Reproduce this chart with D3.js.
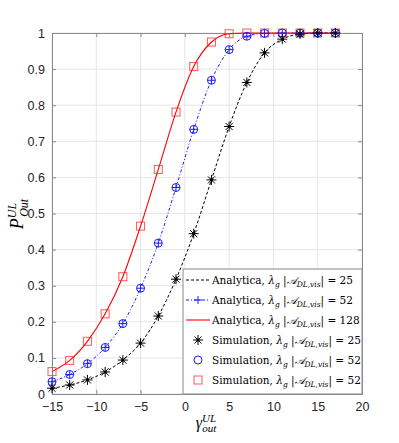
<!DOCTYPE html>
<html>
<head>
<meta charset="utf-8">
<script src="https://cdn.jsdelivr.net/npm/d3@7"></script>
<style>
  body { margin: 0; background: #fff; }
  .tick text { font-family: "Liberation Sans", Arial, sans-serif; font-size: 12.5px; fill: #262626; }
</style>
</head>
<body>
<div id="vis"></div>
<script>
// Data
var gammaDb = [-15, -13, -11, -9, -7, -5, -3, -1, 1, 3, 5, 7, 9, 11, 13, 15, 17];
var pOut25  = [0.016, 0.025, 0.039, 0.061, 0.094, 0.141, 0.216, 0.318, 0.444, 0.593, 0.741, 0.863, 0.945, 0.983, 0.997, 1.0, 1.0];
var pOut52  = [0.034, 0.054, 0.084, 0.129, 0.195, 0.293, 0.418, 0.572, 0.733, 0.869, 0.954, 0.991, 0.999, 1.0, 1.0, 1.0, 1.0];
var pOut128 = [0.062, 0.093, 0.146, 0.222, 0.325, 0.465, 0.622, 0.781, 0.907, 0.975, 0.998, 1.0, 1.0, 1.0, 1.0, 1.0, 1.0];
var xTicks = [-15, -10, -5, 0, 5, 10, 15, 20];
var yTicks = [0, 0.1, 0.2, 0.3, 0.4, 0.5, 0.6, 0.7, 0.8, 0.9, 1];
var legendVals = ["25", "52", "128", "25", "52", "52"];

var width = 399, height = 443,
    margin = { top: 33, right: 37, bottom: 49, left: 52 };
var drawWidth = width - margin.left - margin.right;
var drawHeight = height - margin.top - margin.bottom;

var svg = d3.select("#vis").append("svg")
    .attr("width", width)
    .attr("height", height);

var g = svg.append("g")
    .attr("transform", "translate(" + margin.left + "," + margin.top + ")");

var x = d3.scaleLinear().domain([-15, 20]).range([0, drawWidth]);
var y = d3.scaleLinear().domain([0, 1]).range([drawHeight, 0]);

// grid
g.append("g").selectAll("line").data(xTicks).enter().append("line")
    .attr("x1", function(d) { return x(d); }).attr("x2", function(d) { return x(d); })
    .attr("y1", 0).attr("y2", drawHeight)
    .attr("stroke", "#e6e6e6");
g.append("g").selectAll("line").data(yTicks).enter().append("line")
    .attr("y1", function(d) { return y(d); }).attr("y2", function(d) { return y(d); })
    .attr("x1", 0).attr("x2", drawWidth)
    .attr("stroke", "#e6e6e6");

// axes (MATLAB-like box with inward ticks)
var axColor = "#8a8a8a";
function styleAxis(sel) {
    sel.select(".domain").attr("stroke", axColor);
    sel.selectAll(".tick line").attr("stroke", axColor);
}
g.append("g").attr("transform", "translate(0," + drawHeight + ")")
    .call(d3.axisBottom(x).tickValues(xTicks).tickSize(-4).tickPadding(8).tickSizeOuter(0))
    .call(styleAxis)
    .call(function(s) { s.selectAll("text").attr("dy", "0.71em"); });
g.append("g")
    .call(d3.axisTop(x).tickValues(xTicks).tickSize(-4).tickSizeOuter(0).tickFormat(""))
    .call(styleAxis);
g.append("g")
    .call(d3.axisLeft(y).tickValues(yTicks).tickSize(-4).tickPadding(7).tickSizeOuter(0).tickFormat(d3.format("")))
    .call(styleAxis);
g.append("g").attr("transform", "translate(" + drawWidth + ",0)")
    .call(d3.axisRight(y).tickValues(yTicks).tickSize(-4).tickSizeOuter(0).tickFormat(""))
    .call(styleAxis);

// lines
var series = [
    { vals: pOut25,  color: "#000000", dash: "3,2", width: 1 },
    { vals: pOut52,  color: "#1a1aff", dash: "3,2,1,2", width: 1 },
    { vals: pOut128, color: "#ff0000", dash: null, width: 1.1 }
];
var line = d3.line()
    .x(function(d) { return x(d[0]); })
    .y(function(d) { return y(d[1]); })
    .curve(d3.curveMonotoneX);

series.forEach(function(s) {
    g.append("path")
        .datum(d3.zip(gammaDb, s.vals))
        .attr("fill", "none")
        .attr("stroke", s.color)
        .attr("stroke-width", s.width)
        .attr("stroke-dasharray", s.dash)
        .attr("d", line);
});

// marker helpers
function asterisk(sel, cx, cy, r) {
    var a = sel.append("g").attr("transform", "translate(" + cx + "," + cy + ")");
    [0, 45, 90, 135].forEach(function(ang) {
        var rad = ang * Math.PI / 180;
        a.append("line")
            .attr("x1", -r * Math.cos(rad)).attr("y1", -r * Math.sin(rad))
            .attr("x2", r * Math.cos(rad)).attr("y2", r * Math.sin(rad))
            .attr("stroke", "#000").attr("stroke-width", 1);
    });
    a.append("circle").attr("r", 1.6).attr("fill", "#000");
}
function plus(sel, cx, cy, r, color) {
    sel.append("line").attr("x1", cx - r).attr("x2", cx + r).attr("y1", cy).attr("y2", cy)
        .attr("stroke", color).attr("stroke-width", 1);
    sel.append("line").attr("x1", cx).attr("x2", cx).attr("y1", cy - r).attr("y2", cy + r)
        .attr("stroke", color).attr("stroke-width", 1);
}

var marks = g.append("g");
// red squares (simulation, 128)
gammaDb.forEach(function(d, i) {
    marks.append("rect")
        .attr("x", x(d) - 4).attr("y", y(pOut128[i]) - 4)
        .attr("width", 8).attr("height", 8)
        .attr("fill", "none").attr("stroke", "#ff2020").attr("stroke-opacity", 0.75);
});
// blue circles + plus markers
gammaDb.forEach(function(d, i) {
    marks.append("circle")
        .attr("cx", x(d)).attr("cy", y(pOut52[i])).attr("r", 4)
        .attr("fill", "none").attr("stroke", "#1a1aff");
    plus(marks, x(d), y(pOut52[i]), 4, "#1a1aff");
});
// black asterisks
gammaDb.forEach(function(d, i) {
    asterisk(marks, x(d), y(pOut25[i]), 5);
});

// legend
var lg = svg.append("g").attr("transform", "translate(183,269)");
lg.append("rect")
    .attr("width", 179).attr("height", 125)
    .attr("fill", "#fff").attr("stroke", "#8a8a8a");

var legendNames = ["Analytica, ", "Analytica, ", "Analytica, ", "Simulation, ", "Simulation, ", "Simulation, "];
legendVals.forEach(function(v, i) {
    var row = lg.append("g").attr("transform", "translate(0," + (11 + i * 20) + ")");
    if (i < 3) {
        var s = series[i];
        row.append("line").attr("x1", 3).attr("x2", 27).attr("y1", 0).attr("y2", 0)
            .attr("stroke", s.color).attr("stroke-dasharray", s.dash).attr("stroke-width", s.width);
        if (i === 1) plus(row, 15, 0, 4, "#1a1aff");
    } else if (i === 3) {
        asterisk(row, 15, 0, 5);
    } else if (i === 4) {
        row.append("circle").attr("cx", 15).attr("cy", 0).attr("r", 4)
            .attr("fill", "none").attr("stroke", "#1a1aff");
    } else {
        row.append("rect").attr("x", 11).attr("y", -4).attr("width", 8).attr("height", 8)
            .attr("fill", "none").attr("stroke", "#ff2020").attr("stroke-opacity", 0.75);
    }
    var t = row.append("text")
        .attr("x", 29).attr("y", 4)
        .style("font-family", "'DejaVu Serif', 'Liberation Serif', serif")
        .style("font-size", "10.5px")
        .attr("fill", "#000");
    t.append("tspan").text(legendNames[i]);
    t.append("tspan").style("font-style", "italic").text("λ");
    t.append("tspan").style("font-style", "italic").style("font-size", "7.5px").attr("dy", 2.5).text("g");
    t.append("tspan").attr("dy", -2.5).text(" |");
    t.append("tspan").style("font-style", "italic").text("𝒜");
    t.append("tspan").style("font-style", "italic").style("font-size", "7.5px").attr("dy", 2.5).text("DL,vis");
    t.append("tspan").attr("dy", -2.5).text("| = " + v);
});

// axis labels
var serif = "'Liberation Serif', 'DejaVu Serif', serif";
var yl = svg.append("text")
    .attr("transform", "translate(23,214) rotate(-90)")
    .attr("text-anchor", "middle")
    .style("font-family", serif).style("font-style", "italic")
    .attr("fill", "#000");
yl.append("tspan").style("font-size", "18px").text("P");
yl.append("tspan").style("font-size", "12px").attr("dy", -7).text("UL");
yl.append("tspan").style("font-size", "12px").attr("dx", -14).attr("dy", 12).text("Out");

var xl = svg.append("text")
    .attr("x", 206).attr("y", 428)
    .attr("text-anchor", "middle")
    .style("font-family", serif).style("font-style", "italic")
    .attr("fill", "#000");
xl.append("tspan").style("font-size", "16px").text("γ");
xl.append("tspan").style("font-size", "11px").attr("dy", -6).text("UL");
xl.append("tspan").style("font-size", "11px").attr("dx", -14).attr("dy", 10).text("out");
</script>
</body>
</html>
